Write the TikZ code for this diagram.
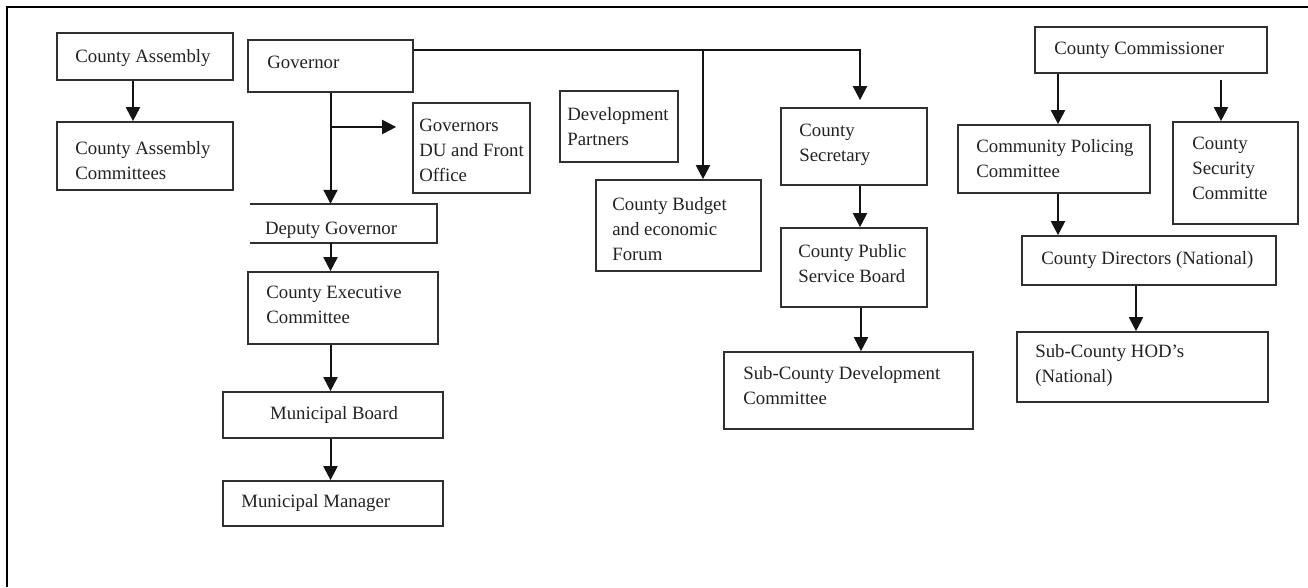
\documentclass[tikz,border=0pt]{standalone}
\usepackage{fontspec}
\setmainfont{Liberation Serif}
\usetikzlibrary{arrows.meta,calc}
\definecolor{ink}{HTML}{222222}
\definecolor{edge}{HTML}{303030}
\begin{document}
\begin{tikzpicture}[x=1pt,y=-1pt,
  box/.style={draw=edge, line width=1.7pt, rectangle, inner sep=0pt},
  txt/.style={inner sep=0pt, align=left, text=ink, font=\fontsize{18.8}{25}\selectfont, anchor=north west},
  arr/.style={draw=black!92, line width=2pt, -{Triangle[width=14pt,length=14pt]}},
]
\useasboundingbox (0,0) rectangle (1308,587);
% frame
\draw[line width=2.4pt, black] (7,587) -- (7,7) -- (1308,7);

% left column
\node[box, minimum width=176pt, minimum height=47pt] (ca) at (145,56.5) {};
\node[txt] at ([shift={(19,17)}]ca.north west) {County Assembly};
\node[box, minimum width=176pt, minimum height=68pt] (cac) at (145,156) {};
\node[txt] at ([shift={(19,20)}]cac.north west) {County Assembly\\Committees};

% governor column
\node[box, minimum width=165pt, minimum height=52pt] (gov) at (330.5,66) {};
\node[txt] at ([shift={(20,17)}]gov.north west) {Governor};
\node[box, minimum width=117pt, minimum height=90pt] (gdu) at (471.5,148) {};
\node[txt] at ([shift={(7,17)}]gdu.north west) {Governors\\DU and Front\\Office};
\node[inner sep=0pt, minimum width=187pt, minimum height=39pt] (dg) at (343.5,223.5) {};
\draw[edge, line width=1.7pt] (dg.north west) -- (dg.north east) -- (dg.south east) -- (dg.south west);
\node[txt] at ([shift={(15,18)}]dg.north west) {Deputy Governor};
\node[box, minimum width=190pt, minimum height=72pt] (cec) at (343,308) {};
\node[txt] at ([shift={(19,15)}]cec.north west) {County Executive\\Committee};
\node[box, minimum width=220pt, minimum height=46pt] (mb) at (333,415) {};
\node[txt, anchor=north] at ([shift={(1,15)}]mb.north) {Municipal Board};
\node[box, minimum width=220pt, minimum height=45pt] (mm) at (333,503.5) {};
\node[txt] at ([shift={(19,14)}]mm.north west) {Municipal Manager};

% middle
\node[box, minimum width=118pt, minimum height=71pt] (dp) at (619,126.5) {};
\node[txt] at ([shift={(8,17)}]dp.north west) {Development\\Partners};
\node[box, minimum width=165pt, minimum height=91pt] (cb) at (678.5,225.5) {};
\node[txt] at ([shift={(17,18)}]cb.north west) {County Budget\\and economic\\Forum};
\node[box, minimum width=146pt, minimum height=77pt] (cs) at (854,146.5) {};
\node[txt] at ([shift={(19,17)}]cs.north west) {County\\Secretary};
\node[box, minimum width=146pt, minimum height=79pt] (cpsb) at (854,267.5) {};
\node[txt] at ([shift={(18,17)}]cpsb.north west) {County Public\\Service Board};
\node[box, minimum width=249pt, minimum height=77pt] (scdc) at (848.5,390.5) {};
\node[txt] at ([shift={(20,15)}]scdc.north west) {Sub-County Development\\Committee};

% right
\node[box, minimum width=232pt, minimum height=46pt] (cc) at (1151,50) {};
\node[txt] at ([shift={(20,16)}]cc.north west) {County Commissioner};
\node[box, minimum width=192pt, minimum height=68pt] (cpc) at (1054,159) {};
\node[txt] at ([shift={(19,15)}]cpc.north west) {Community Policing\\Committee};
\node[box, minimum width=125pt, minimum height=102pt] (csc) at (1235.5,173) {};
\node[txt] at ([shift={(20,16)}]csc.north west) {County\\Security\\Committe};
\node[box, minimum width=254pt, minimum height=49pt] (cd) at (1149,260.5) {};
\node[txt] at ([shift={(20,16)}]cd.north west) {County Directors (National)};
\node[box, minimum width=251pt, minimum height=70pt] (hod) at (1142.5,367) {};
\node[txt] at ([shift={(19,13)}]hod.north west) {Sub-County HOD’s\\(National)};

% connectors
\draw[arr] ([xshift=-12pt]ca.south) -- ([xshift=-12pt]cac.north);

\draw[arr] (gov.south) -- (gov.south |- dg.north);
\coordinate (gb) at (331,127);
\draw[arr, shorten >=16pt] (gb) -- (gb -| gdu.west);
\draw[arr] (dg.south -| gov.south) -- (cec.north -| gov.south);
\draw[arr] (cec.south -| gov.south) -- (mb.north -| gov.south);
\draw[arr] (mb.south -| gov.south) -- (mm.north -| gov.south);

\draw[arr, shorten >=7pt] ([yshift=-11pt]gov.north east) -| ([xshift=6pt]cs.north);
\coordinate (bb) at (703,51);
\draw[arr] (bb) -- (bb |- cb.north);
\draw[arr] ([xshift=6pt]cs.south) -- ([xshift=6pt]cpsb.north);
\draw[arr] ([xshift=7pt]cpsb.south) -- ([xshift=7pt]cpsb.south |- scdc.north);

\draw[arr] ([xshift=4pt]cpc.north |- cc.south) -- ([xshift=4pt]cpc.north);
\draw[arr, shorten <=6pt] ([xshift=-14.5pt]csc.north |- cc.south) -- ([xshift=-14.5pt]csc.north);
\draw[arr] ([xshift=4pt]cpc.south) -- ([xshift=4pt]cpc.south |- cd.north);
\draw[arr] ([xshift=-13pt]cd.south) -- ([xshift=-13pt]cd.south |- hod.north);
\end{tikzpicture}
\end{document}
